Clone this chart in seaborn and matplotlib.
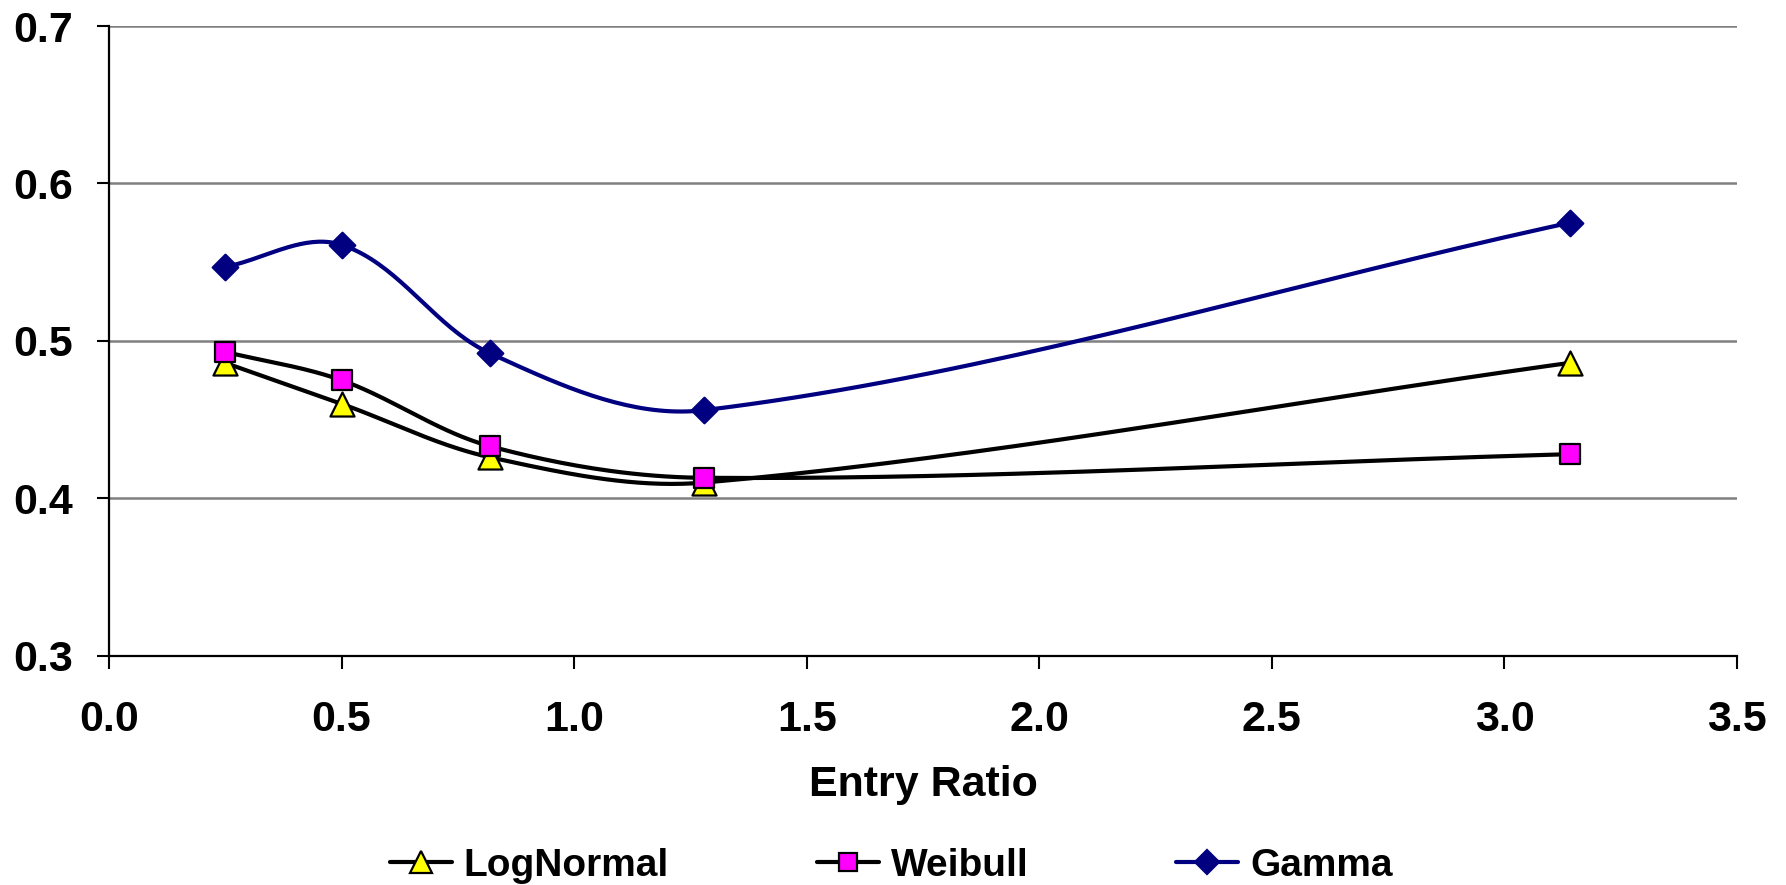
import numpy as np
import pandas as pd
import matplotlib
matplotlib.use("Agg")
import matplotlib.pyplot as plt
from matplotlib.lines import Line2D
import seaborn as sns

# ---- data ----
entry_ratio = [0.25, 0.50, 0.82, 1.28, 3.14]
lognormal = [0.486, 0.460, 0.426, 0.410, 0.486]
weibull = [0.493, 0.475, 0.433, 0.413, 0.428]
gamma = [0.547, 0.561, 0.492, 0.456, 0.575]
series_names = ["LogNormal", "Weibull", "Gamma"]
x_ticks = [0.0, 0.5, 1.0, 1.5, 2.0, 2.5, 3.0, 3.5]
y_ticks = [0.3, 0.4, 0.5, 0.6, 0.7]

sns.set_theme(style="white")
plt.rcParams["font.family"] = ["Liberation Sans", "DejaVu Sans"]
plt.rcParams["font.weight"] = "bold"
plt.rcParams["text.color"] = "black"
plt.rcParams["axes.labelcolor"] = "black"
plt.rcParams["xtick.color"] = "black"
plt.rcParams["ytick.color"] = "black"

FIG_W, FIG_H = 17.86, 8.85
AX_RECT = [0.0610, 0.2591, 0.9116, 0.7115]
XLIM, YLIM = (0.0, 3.5), (0.3, 0.7)


def excel_smooth(xs, ys, sx, sy, n=40):
    """Smoothed line: cubic Bezier segments, tangent parallel to neighbour chord,
    handle length one third of the segment length (computed in screen units)."""
    P = np.column_stack([np.asarray(xs) * sx, np.asarray(ys) * sy]).astype(float)
    m = len(P)
    T = np.zeros_like(P)
    for i in range(m):
        a = P[max(i - 1, 0)]
        b = P[min(i + 1, m - 1)]
        v = b - a
        T[i] = v / np.linalg.norm(v)
    t = np.linspace(0, 1, n)[:, None]
    out = []
    for i in range(m - 1):
        p1, p2 = P[i], P[i + 1]
        d = np.linalg.norm(p2 - p1)
        c1 = p1 + T[i] * d / 3.0
        c2 = p2 - T[i + 1] * d / 3.0
        seg = ((1 - t) ** 3) * p1 + 3 * ((1 - t) ** 2) * t * c1 + 3 * (1 - t) * t ** 2 * c2 + t ** 3 * p2
        out.append(seg if i == 0 else seg[1:])
    out = np.vstack(out)
    return out[:, 0] / sx, out[:, 1] / sy


fig = plt.figure(figsize=(FIG_W, FIG_H), dpi=100)
ax = fig.add_axes(AX_RECT)

# pixels per data unit (screen-space smoothing)
px_x = AX_RECT[2] * FIG_W * 100 / (XLIM[1] - XLIM[0])
px_y = AX_RECT[3] * FIG_H * 100 / (YLIM[1] - YLIM[0])

styles = {
    "LogNormal": dict(vals=lognormal, line="black", marker="^", face="#FFFF00", edge="black", s=300),
    "Weibull": dict(vals=weibull, line="black", marker="s", face="#FF00FF", edge="black", s=210),
    "Gamma": dict(vals=gamma, line="#000080", marker="D", face="#000080", edge="#000080", s=170),
}
LW = 3.0

for name in series_names:
    st = styles[name]
    cx, cy = excel_smooth(entry_ratio, st["vals"], px_x, px_y)
    sns.lineplot(x=cx, y=cy, ax=ax, color=st["line"], linewidth=LW, sort=False,
                 estimator=None, legend=False, zorder=3)
for name in series_names:
    st = styles[name]
    df = pd.DataFrame({"x": entry_ratio, "y": st["vals"]})
    sns.scatterplot(data=df, x="x", y="y", ax=ax, marker=st["marker"], s=st["s"],
                    color=st["face"], edgecolor=st["edge"], linewidth=1.6,
                    legend=False, zorder=4)

ax.set_xlim(*XLIM)
ax.set_ylim(*YLIM)
ax.set_xticks(x_ticks)
ax.set_yticks(y_ticks)
ax.set_xticklabels([f"{v:.1f}" for v in x_ticks], fontsize=31, fontweight="bold", color="black")
ax.set_yticklabels([f"{v:.1f}" for v in y_ticks], fontsize=31, fontweight="bold", color="black")
ax.tick_params(axis="both", direction="out", length=9, width=1.5, color="black",
               bottom=True, left=True)
ax.tick_params(axis="x", pad=23)
ax.tick_params(axis="y", pad=17)
ax.yaxis.grid(True, color="#808080", linewidth=1.8)
ax.xaxis.grid(False)
for side in ["top", "right"]:
    ax.spines[side].set_visible(False)
for side in ["left", "bottom"]:
    ax.spines[side].set_color("black")
    ax.spines[side].set_linewidth(1.6)
ax.set_axisbelow(True)

ax.set_xlabel("Entry Ratio", fontsize=31, fontweight="bold", labelpad=18, color="black")
ax.set_ylabel("")

handles = []
for name in series_names:
    st = styles[name]
    handles.append(Line2D([0], [0], color=st["line"], linewidth=LW, marker=st["marker"],
                          markersize=np.sqrt(st["s"]) * 0.9, markerfacecolor=st["face"],
                          markeredgecolor=st["edge"], markeredgewidth=1.6))
leg = fig.legend(handles, series_names, loc="center", bbox_to_anchor=(0.499, 0.022), ncol=3,
                 frameon=False, prop={"size": 28, "weight": "bold"}, handlelength=1.6,
                 handletextpad=0.3, columnspacing=3.8, borderpad=0, borderaxespad=0)
for txt in leg.get_texts():
    txt.set_color("black")

fig.savefig("out.png", dpi=100)
